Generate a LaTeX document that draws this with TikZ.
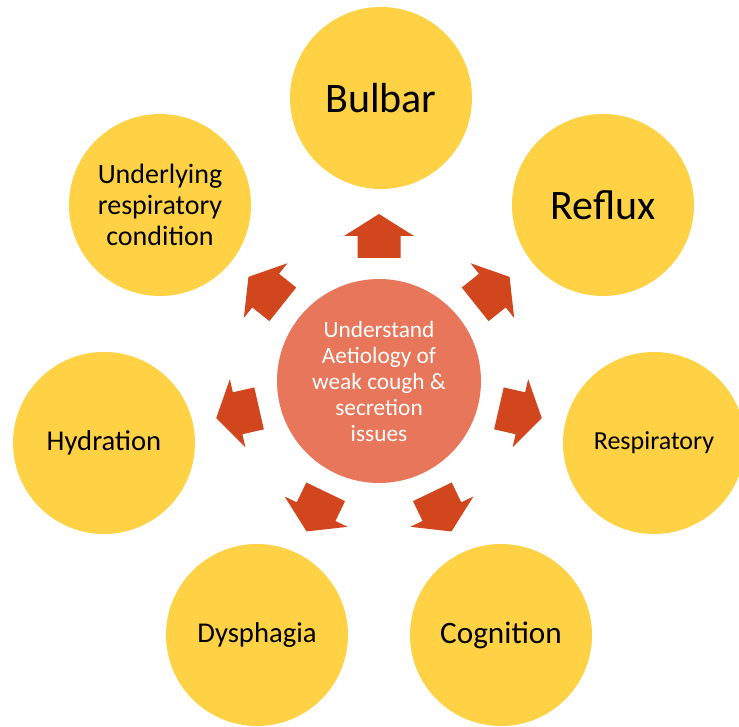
\documentclass[tikz,border=0pt]{standalone}
\usepackage{fontspec}
\setmainfont{Carlito}
\definecolor{gold}{HTML}{FFD246}
\definecolor{coral}{HTML}{E8765A}
\definecolor{rust}{HTML}{D2461E}
\tikzset{
  outer/.style={circle, fill=gold, draw=none, minimum size=136.5pt, inner sep=0pt, align=center, text=black},
  hub/.style={circle, fill=coral, draw=none, minimum size=153pt, inner sep=0pt, align=center, text=white},
  blockarrow/.style={fill=rust, draw=none}
}
\begin{document}
\begin{tikzpicture}[x=0.75pt,y=-0.75pt]
\useasboundingbox (0,0) rectangle (739,727);
\clip (0,0) rectangle (739,727);
\node[hub, font=\fontsize{17.5pt}{19.5pt}\selectfont] (ctr) at (379,381) {Understand\\Aetiology of\\weak cough \&\\secretion\\issues};
\node[outer, font=\fontsize{31.5pt}{36pt}\selectfont] (bulbar) at (381,98) {Bulbar};
\node[outer, font=\fontsize{31.5pt}{36pt}\selectfont] (reflux) at (603,205) {Reflux};
\node[outer, font=\fontsize{19.5pt}{23pt}\selectfont] (resp) at (654,443) {Respiratory};
\node[outer, font=\fontsize{23.4pt}{27pt}\selectfont] (cogn) at (501,635) {Cognition};
\node[outer, font=\fontsize{21.5pt}{25pt}\selectfont] (dysph) at (257,635) {Dysphagia};
\node[outer, font=\fontsize{21.5pt}{25pt}\selectfont] (hydr) at (104,443) {Hydration};
\node[outer, font=\fontsize{21pt}{23.3pt}\selectfont] (under) at (160,205) {Underlying\\respiratory\\condition};
\foreach \a in {90, 38.57, -12.86, -64.29, -115.71, -167.14, 141.43}{
  \begin{scope}[shift={(ctr.center)}, rotate=\a]
    \fill[blockarrow] (123,-21.5) -- (145,-21.5) -- (145,-35) -- (167,0) -- (145,35) -- (145,21.5) -- (123,21.5) -- cycle;
  \end{scope}
}
\end{tikzpicture}
\end{document}
